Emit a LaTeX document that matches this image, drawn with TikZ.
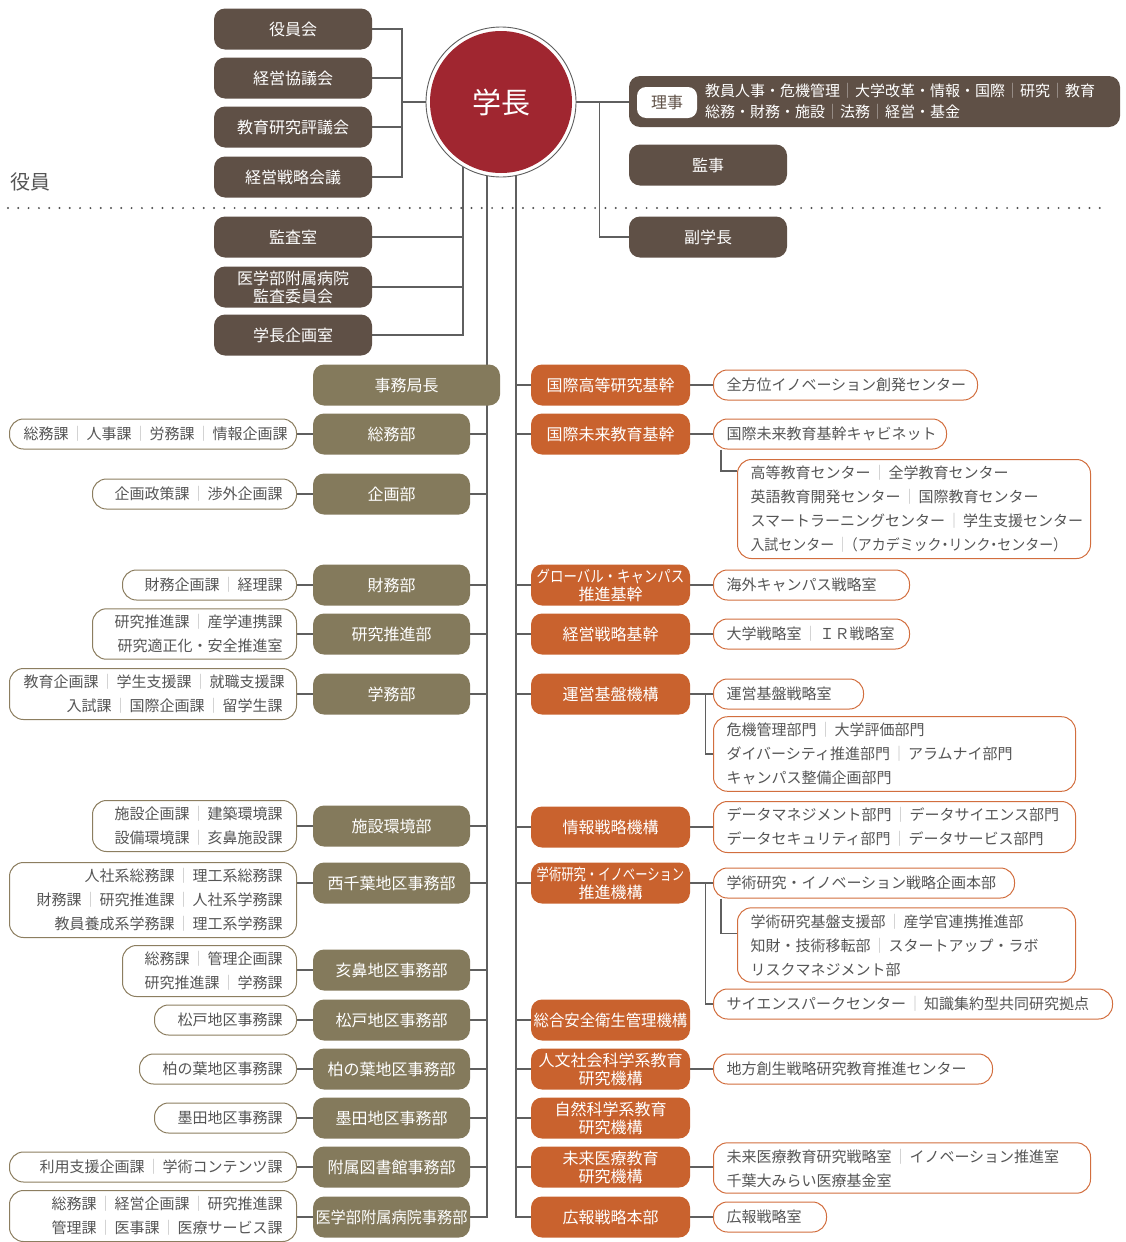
\documentclass[tikz,border=0pt]{standalone}
\usepackage{fontspec}
\setmainfont{Noto Sans CJK JP}
\usepackage{graphicx}
\usepackage{xcolor}
\usetikzlibrary{backgrounds}
\definecolor{exebrown}{RGB}{95,80,70}
\definecolor{officeolive}{RGB}{132,122,92}
\definecolor{instorange}{RGB}{201,98,46}
\definecolor{presred}{RGB}{160,38,48}
\definecolor{listolive}{RGB}{140,126,96}
\definecolor{listorange}{RGB}{210,110,62}
\definecolor{listtext}{RGB}{85,85,85}
\definecolor{linegray}{RGB}{95,95,95}
\definecolor{dotgray}{RGB}{80,80,80}
\definecolor{sepgray}{RGB}{185,185,185}
\newcommand{\sepbar}{\kern0.1em{\color{sepgray}｜}\kern0.1em\relax}
\newcommand{\rijisep}{{\color{white!55!exebrown}｜}}
\newcommand{\narrowdot}{\makebox[0.5em][c]{・}}
\newcommand{\boxfont}{\fontsize{16}{18}\selectfont}
\newcommand{\listfont}{\fontsize{15}{24}\selectfont}

\begin{document}
\begin{tikzpicture}[
    x=1pt, y=-1pt,
    board/.style={rectangle, rounded corners=11pt, text=white, font=\boxfont, align=center, minimum height=41pt, inner xsep=2pt},
    exec/.style={board, fill=exebrown, minimum width=158pt},
    office/.style={board, fill=officeolive, minimum width=157pt},
    inst/.style={board, fill=instorange, minimum width=159pt},
    llist/.style={rectangle, rounded corners=14pt, draw=listolive, line width=1pt, fill=white, text=listtext, font=\listfont, align=right, inner xsep=14pt, inner ysep=6pt, minimum height=30pt, anchor=east},
    rlist/.style={llist, draw=listorange, align=left, inner xsep=13pt, anchor=west},
    conn/.style={draw=linegray, line width=1.2pt}
]
\useasboundingbox (0,0) rectangle (1125,1242);

% Board and councils
\node[exec] (yakuinkai) at (293,29) {役員会};
\node[exec] (kyogikai) at (293,78) {経営協議会};
\node[exec] (hyogikai) at (293,127) {教育研究評議会};
\node[exec] (senryaku) at (293,177) {経営戦略会議};
\node[text=listtext, font=\fontsize{20}{20}\selectfont] (yakuin) at (30,182) {役員};

% President
\node[circle, draw=linegray, line width=0.9pt, fill=white, minimum size=150pt] (pres) at (501,102) {};
\node[circle, fill=presred, minimum size=142pt, text=white, font=\fontsize{29}{29}\selectfont] (presin) at (pres.center) {学長};

% Executives
\node[exec, minimum width=491pt, minimum height=51pt] (riji) at (874.5,101.5) {};
\node[rectangle, rounded corners=9pt, fill=white, text=exebrown, minimum width=60pt, minimum height=31pt, font=\fontsize{16}{16}\selectfont] (rijilbl) at (667,102.5) {理事};
\node[anchor=west, text=white, font=\fontsize{15}{21}\selectfont, align=left, inner sep=0pt] (rijitxt) at (705,101.5) {教員人事・危機管理\rijisep 大学改革・情報・国際\rijisep 研究\rijisep 教育\\総務・財務・施設\rijisep 法務\rijisep 経営・基金};
\node[exec] (kanji) at (708,165) {監事};
\node[exec] (fukugaku) at (708,237) {副学長};

% Offices under the president
\node[exec] (kansa) at (293,237) {監査室};
\node[exec] (kansaiin) at (293,287) {医学部附属病院\\監査委員会};
\node[exec] (kikakushitsu) at (293,335) {学長企画室};

% Secretariat
\node[office, minimum width=187pt] (jimukyoku) at (406.5,385) {事務局長};
\node[office] (soumu) at (391.5,434) {総務部};
\node[office] (kikaku) at (391.5,494) {企画部};
\node[office] (zaimu) at (391.5,585) {財務部};
\node[office] (kenkyu) at (391.5,634) {研究推進部};
\node[office] (gakumu) at (391.5,694) {学務部};
\node[office] (shisetsu) at (391.5,826) {施設環境部};
\node[office] (nishi) at (391.5,883) {西千葉地区事務部};
\node[office] (inohana) at (391.5,970) {亥鼻地区事務部};
\node[office] (matsudo) at (391.5,1020) {松戸地区事務部};
\node[office] (kashiwa) at (391.5,1069) {柏の葉地区事務部};
\node[office] (sumida) at (391.5,1118) {墨田地区事務部};
\node[office] (tosho) at (391.5,1167) {附属図書館事務部};
\node[office] (byoin) at (391.5,1217) {\scalebox{0.95}[1]{医学部附属病院事務部}};

% Sections of the secretariat
\node[llist, text width=259pt] (lsoumu) at (297,434) {総務課\sepbar 人事課\sepbar 労務課\sepbar 情報企画課};
\node[llist, text width=176pt] (lkikaku) at (297,494) {企画政策課\sepbar 渉外企画課};
\node[llist, text width=146pt] (lzaimu) at (297,585) {財務企画課\sepbar 経理課};
\node[llist, text width=176pt] (lkenkyu) at (297,634) {研究推進課\sepbar 産学連携課\\研究適正化・安全推進室};
\node[llist, text width=259pt] (lgakumu) at (297,694) {教育企画課\sepbar 学生支援課\sepbar 就職支援課\\入試課\sepbar 国際企画課\sepbar 留学生課};
\node[llist, text width=176pt] (lshisetsu) at (297,826) {施設企画課\sepbar 建築環境課\\設備環境課\sepbar 亥鼻施設課};
\node[llist, text width=259pt] (lnishi) at (297,900) {人社系総務課\sepbar 理工系総務課\\財務課\sepbar 研究推進課\sepbar 人社系学務課\\教員養成系学務課\sepbar 理工系学務課};
\node[llist, text width=146pt] (linohana) at (297,971) {総務課\sepbar 管理企画課\\研究推進課\sepbar 学務課};
\node[llist, text width=114pt] (lmatsudo) at (297,1020) {松戸地区事務課};
\node[llist, text width=129pt] (lkashiwa) at (297,1069) {柏の葉地区事務課};
\node[llist, text width=114pt] (lsumida) at (297,1118) {墨田地区事務課};
\node[llist, text width=259pt] (ltosho) at (297,1167) {利用支援企画課\sepbar 学術コンテンツ課};
\node[llist, text width=259pt] (lbyoin) at (297,1216) {総務課\sepbar 経営企画課\sepbar 研究推進課\\管理課\sepbar 医事課\sepbar 医療サービス課};

% Institutes
\node[inst] (kokusaiK) at (610.5,385) {国際高等研究基幹};
\node[inst] (miraiK) at (610.5,434) {国際未来教育基幹};
\node[inst] (global) at (610.5,585) {\scalebox{0.84}[1]{グローバル・キャンパス}\\推進基幹};
\node[inst] (keiei) at (610.5,634) {経営戦略基幹};
\node[inst] (unei) at (610.5,694) {運営基盤機構};
\node[inst] (joho) at (610.5,827) {情報戦略機構};
\node[inst] (gakujutsu) at (610.5,883) {\scalebox{0.77}[1]{学術研究・イノベーション}\\推進機構};
\node[inst] (anzen) at (610.5,1020) {\scalebox{0.96}[1]{総合安全衛生管理機構}};
\node[inst] (jinbun) at (610.5,1069) {人文社会科学系教育\\研究機構};
\node[inst] (shizen) at (610.5,1118) {自然科学系教育\\研究機構};
\node[inst] (iryo) at (610.5,1167) {未来医療教育\\研究機構};
\node[inst] (koho) at (610.5,1217) {広報戦略本部};

% Units of the institutes
\node[rlist, text width=238pt] (rzenhoi) at (713,385) {全方位イノベーション創発センター};
\node[rlist, text width=207pt] (rcab) at (713,434) {国際未来教育基幹キャビネット};
\node[rlist, text width=327pt] (rcabsub) at (737,509) {高等教育センター\sepbar 全学教育センター\\英語教育開発センター\sepbar 国際教育センター\\スマートラーニングセンター\sepbar 学生支援センター\\\scalebox{0.93}[1]{入試センター\sepbar \makebox[0.5em][r]{（}アカデミック\narrowdot リンク\narrowdot センター\makebox[0.5em][l]{）}}};
\node[rlist, text width=170pt] (rkaigai) at (713,585) {海外キャンパス戦略室};
\node[rlist, text width=170pt] (rdaigaku) at (713,634) {大学戦略室\sepbar ＩＲ戦略室};
\node[rlist, text width=124pt] (runeiA) at (713,694) {運営基盤戦略室};
\node[rlist, text width=336pt] (runeiB) at (713,754) {危機管理部門\sepbar 大学評価部門\\ダイバーシティ推進部門\sepbar アラムナイ部門\\キャンパス整備企画部門};
\node[rlist, text width=336pt] (rjoho) at (713,827) {データマネジメント部門\sepbar データサイエンス部門\\データセキュリティ部門\sepbar データサービス部門};
\node[rlist, text width=275pt] (rgakuA) at (713,883) {学術研究・イノベーション戦略企画本部};
\node[rlist, text width=312pt] (rgakuB) at (737,945) {学術研究基盤支援部\sepbar 産学官連携推進部\\知財・技術移転部\sepbar スタートアップ・ラボ\\リスクマネジメント部};
\node[rlist, text width=373pt] (rgakuC) at (713,1004) {サイエンスパークセンター\sepbar 知識集約型共同研究拠点};
\node[rlist, text width=253pt] (rchiho) at (713,1069) {地方創生戦略研究教育推進センター};
\node[rlist, text width=351pt] (riryo) at (713,1168) {未来医療教育研究戦略室\sepbar イノベーション推進室\\千葉大みらい医療基金室};
\node[rlist, text width=87pt] (rkoho) at (713,1217) {広報戦略室};

% Boundary of the executives
\draw[draw=dotgray, line width=2.2pt, line cap=round, dash pattern=on 0pt off 10.3pt] (8,208) -- (1100,208);

% Connectors
\begin{scope}[on background layer]
\coordinate (cjL) at (402,102);
\coordinate (spineA) at (463,102);
\coordinate (spineB) at (487,102);
\coordinate (spineC) at (516,102);
\draw[conn] (yakuinkai.east) -| (cjL) |- (senryaku.east);
\draw[conn] (kyogikai.east) -- (kyogikai.east -| cjL);
\draw[conn] (hyogikai.east) -- (hyogikai.east -| cjL);
\draw[conn] (cjL) -- (pres.west);
\draw[conn] (pres.east) -- (pres.east -| riji.west);
\draw[conn] ([xshift=23pt]pres.east) |- (fukugaku.west);
\draw[conn] (spineA) |- (kikakushitsu.east);
\draw[conn] (kansa.east) -- (kansa.east -| spineA);
\draw[conn] (kansaiin.east) -- (kansaiin.east -| spineA);
\draw[conn] (spineB) |- (byoin.east);
\foreach \o in {soumu,kikaku,zaimu,kenkyu,gakumu,shisetsu,nishi,inohana,matsudo,kashiwa,sumida,tosho,byoin}{
  \draw[conn] (\o.east) -- (\o.east -| spineB);
  \draw[conn] (\o.west) -- (\o.west -| l\o.east);
}
\draw[conn] (spineC) |- (koho.west);
\foreach \o in {kokusaiK,miraiK,global,keiei,unei,joho,gakujutsu,anzen,jinbun,shizen,iryo}
  \draw[conn] (\o.west) -- (\o.west -| spineC);
\foreach \o/\r in {kokusaiK/rzenhoi,miraiK/rcab,global/rkaigai,keiei/rdaigaku,unei/runeiA,joho/rjoho,gakujutsu/rgakuA,jinbun/rchiho,iryo/riryo,koho/rkoho}
  \draw[conn] (\o.east) -- (\o.east -| \r.west);
\draw[conn] ([xshift=15pt]unei.east) |- (runeiB.west);
\draw[conn] ([xshift=15pt]gakujutsu.east) |- (rgakuC.west);
\draw[conn] ([xshift=8pt]rcab.south west) |- ([yshift=-12pt]rcabsub.north west);
\draw[conn] ([xshift=8pt]rgakuA.south west) |- ([yshift=-26pt]rgakuB.north west);
\end{scope}

\end{tikzpicture}
\end{document}
